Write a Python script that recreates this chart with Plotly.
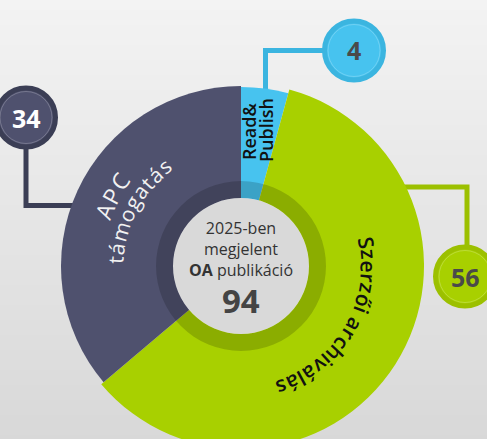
import numpy as np
import plotly.graph_objects as go

# ---------------- data ----------------
categories = ["Read&Publish", "Szerzői archiválás", "APC támogatás"]
values = [4, 56, 34]
slice_label_lines = [["Read&", "Publish"], ["Szerzői archiválás"], ["APC", "támogatás"]]
center_lines = ["2025-ben", "megjelent", "<b>OA</b> publikáció"]
total = sum(values)

# ---------------- geometry / style ----------------
W, H = 487, 470          # page shows the top 439 px, the donut is cut by the bottom edge
CX, CY = 241, 266        # donut centre in px
RMAX = 200
colors = ["#47c3ef", "#a8d000", "#4f516e"]
edge_colors = ["#3bb5e0", "#9cc000", "#3b3e55"]
outer_r = [179, 183, 180]
RING_IN, RING_OUT = 68, 85
FONT = "Open Sans"


def fx(x):
    return x / W


def fy(y):
    return 1 - y / H


cum = np.concatenate([[0], np.cumsum(values)[:-1]])
theta_mid = (cum + np.array(values) / 2) / total * 360
theta_w = np.array(values) / total * 360

fig = go.Figure()
fig.add_trace(go.Barpolar(
    r=outer_r, base=[0, 0, 0], theta=theta_mid, width=theta_w,
    marker=dict(color=colors, line=dict(width=0)), text=categories,
    hoverinfo="skip", showlegend=False))
fig.add_trace(go.Barpolar(
    r=[RING_OUT - RING_IN], base=[RING_IN], theta=[180], width=[360],
    marker=dict(color="rgba(0,0,0,0.17)", line=dict(width=0)),
    hoverinfo="skip", showlegend=False))
fig.add_trace(go.Barpolar(
    r=[RING_IN], base=[0], theta=[180], width=[360],
    marker=dict(color="#d9d9d9", line=dict(width=0)),
    hoverinfo="skip", showlegend=False))

shapes = []
# background vertical gradient
step = 5
for y in range(0, H, step):
    t = min(y / 439, 1)
    c = int(round(243 - 27 * t))
    shapes.append(dict(type="rect", xref="paper", yref="paper", x0=0, x1=1,
                       y0=fy(y + step + 1), y1=fy(y), fillcolor=f"rgb({c},{c},{c})",
                       line=dict(width=0), layer="below"))

# callouts: (slice index, circle centre, connector path points)
callouts = [
    (2, (26, 117.5), [(26, 147), (26, 205.5), (120, 205.5)]),
    (0, (354, 50.5), [(324, 50.5), (265.5, 50.5), (265.5, 110)]),
    (1, (465, 276.5), [(467, 247), (467, 187), (380, 187)]),
]
num_colors = ["#4a4a4a", "#4a4a4a", "#ffffff"]
RC = 29.5
annotations = []
for i, (cx, cy), pts in callouts:
    path = "M" + " L".join(f"{fx(x):.5f},{fy(y):.5f}" for x, y in pts)
    shapes.append(dict(type="path", xref="paper", yref="paper", path=path,
                       line=dict(color=edge_colors[i], width=5), layer="below"))
for i, (cx, cy), pts in callouts:
    shapes.append(dict(type="circle", xref="paper", yref="paper",
                       x0=fx(cx - RC), x1=fx(cx + RC), y0=fy(cy + RC), y1=fy(cy - RC),
                       fillcolor=colors[i], line=dict(color=edge_colors[i], width=5),
                       layer="above"))
    shapes.append(dict(type="circle", xref="paper", yref="paper",
                       x0=fx(cx - RC + 3.5), x1=fx(cx + RC - 3.5),
                       y0=fy(cy + RC - 3.5), y1=fy(cy - RC + 3.5),
                       fillcolor="rgba(0,0,0,0)",
                       line=dict(color="rgba(255,255,255,0.22)", width=1),
                       layer="above"))
    annotations.append(dict(x=fx(cx), y=fy(cy), xref="paper", yref="paper",
                            text=f"<b>{values[i]}</b>", showarrow=False,
                            font=dict(family=FONT, size=25, color=num_colors[i]),
                            xanchor="center", yanchor="middle"))

# text along arcs
CW = {' ': .26, 'A': .633, 'C': .631, 'P': .595, 'S': .535, 'a': .556, 'á': .556,
      'c': .476, 'e': .561, 'g': .551, 'h': .614, 'i': .253, 'l': .253, 'm': .930,
      'o': .604, 'ő': .604, 'r': .408, 's': .477, 't': .344, 'v': .511, 'z': .477}


def arc_text(text, r, th0, th1, size, color, weight):
    w = np.array([CW.get(ch, .55) for ch in text]) * size * 1.03
    adv = np.concatenate([[0], np.cumsum((w[:-1] + w[1:]) / 2)])
    span = np.radians(th1 - th0) * r
    track = (span - adv[-1]) / (len(text) - 1)
    pos = adv + track * np.arange(len(text))
    for ch, s in zip(text, pos):
        if ch == ' ':
            continue
        th = th0 + np.degrees(s / r)
        X = CX + r * np.sin(np.radians(th))
        Y = CY - r * np.cos(np.radians(th))
        ang = ((th + 180) % 360) - 180
        annotations.append(dict(x=fx(X), y=fy(Y), xref="paper", yref="paper",
                                text=ch, showarrow=False, textangle=ang,
                                font=dict(family=FONT, size=size, color=color, weight=weight),
                                xanchor="center", yanchor="middle"))


arc_text(slice_label_lines[1][0], 128, 79.5, 161.4, 21, "#111111", 600)
arc_text(slice_label_lines[2][0], 147.5, 292.0, 305.0, 23, "#f2f2f2", 500)
arc_text(slice_label_lines[2][1], 125.5, 272.7, 322.5, 21, "#f2f2f2", 500)

# Read & Publish (straight, vertical)
for txt, (x, y) in zip(slice_label_lines[0], [(249, 131), (266, 130)]):
    annotations.append(dict(x=fx(x), y=fy(y), xref="paper", yref="paper", text=txt,
                            showarrow=False, textangle=-90,
                            font=dict(family=FONT, size=18, color="#111111", weight=600),
                            xanchor="center", yanchor="middle"))

# centre texts (one multi-line block + the total)
annotations.append(dict(x=fx(241), y=fy(249), xref="paper", yref="paper",
                        text="<br>".join(center_lines), showarrow=False,
                        font=dict(family=FONT, size=16, color="#333333"),
                        xanchor="center", yanchor="middle", align="center"))
annotations.append(dict(x=fx(241), y=fy(300), xref="paper", yref="paper",
                        text=f"<b>{total}</b>", showarrow=False,
                        font=dict(family=FONT, size=33, color="#444444"),
                        xanchor="center", yanchor="middle"))

fig.update_layout(
    width=W, height=H,
    margin=dict(l=0, r=0, t=0, b=0),
    paper_bgcolor="#e6e6e6",
    showlegend=False,
    polar=dict(
        domain=dict(x=[fx(CX - RMAX), fx(CX + RMAX)], y=[fy(CY + RMAX), fy(CY - RMAX)]),
        bgcolor="rgba(0,0,0,0)", barmode="overlay", bargap=0,
        radialaxis=dict(range=[0, RMAX], visible=False),
        angularaxis=dict(rotation=90, direction="clockwise", visible=False),
    ),
    shapes=shapes,
    annotations=annotations,
)

fig.write_html(
    "out.html",
    config={"displayModeBar": False},
    post_script="document.body.style.margin='0';document.body.style.overflow='hidden';"
                "document.documentElement.style.overflow='hidden';",
)
